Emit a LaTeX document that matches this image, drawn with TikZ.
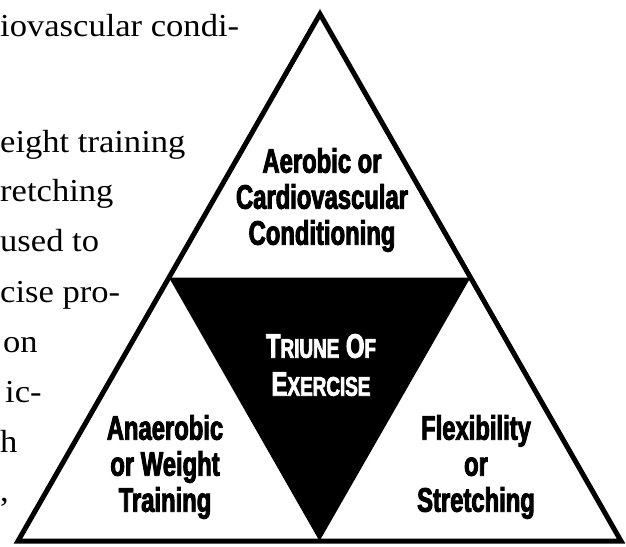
\documentclass[tikz,border=0pt]{standalone}
\usepackage{fontspec}
\setmainfont[FakeStretch=1.08]{Liberation Serif}
\newfontfamily\blockfont[FakeStretch=0.70,BoldFeatures={FakeBold=2.6}]{Liberation Sans}
\usetikzlibrary{calc}
\newcommand\smallcap[2]{#1{\fontsize{27}{38}\selectfont #2}}

\begin{document}
\begin{tikzpicture}[x=1pt,y=-1pt,
		block/.style={align=center,inner sep=0pt,font=\blockfont\bfseries\fontsize{34}{36}\selectfont},
		book/.style={inner sep=0pt,font=\fontsize{32}{40}\selectfont}]
	\useasboundingbox (0,0) rectangle (626,546);

	\coordinate (apex) at (320,14);
	\coordinate (bl) at (18,541);
	\coordinate (br) at (621,541);
	\coordinate (ml) at ($(apex)!.5!(bl)$);
	\coordinate (mr) at ($(apex)!.5!(br)$);
	\coordinate (mb) at ($(bl)!.5!(br)$);

	\fill (ml) -- (mr) -- (mb) -- cycle;
	\draw[line width=5pt, line join=miter] (apex) -- (bl) -- (br) -- cycle;

	% the three parts
	\node[block] (aerobic) at (322,200) {Aerobic or\\Cardiovascular\\Conditioning};
	\node[block] (anaerobic) at (165,467) {Anaerobic\\or Weight\\Training};
	\node[block] (flexibility) at (476,467) {Flexibility\\or\\Stretching};
	\node[block, text=white, font=\blockfont\bfseries\fontsize{34}{38}\selectfont] (triune) at (321,365)
		{\smallcap{T}{RIUNE} \smallcap{O}{F}\\\smallcap{E}{XERCISE}};

	% book text on the left
	\foreach \base/\xpos/\txt [count=\i] in {
		36/0/{iovascular condi-},
		152/0/{eight training},
		201/0/{retching},
		251/0/{used to},
		302/0/{cise pro-},
		352/3/{on},
		402/5/{ic-},
		452/0/{h},
		501/0/{,}
	}{
		\node[book, anchor=base west] (line\i) at (\xpos,\base) {\txt};
	}
\end{tikzpicture}
\end{document}
